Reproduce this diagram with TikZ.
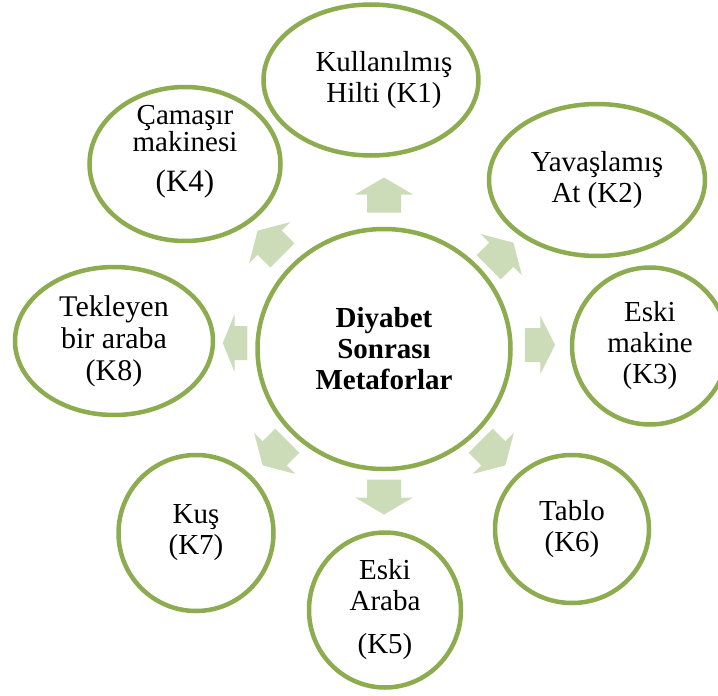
\documentclass[tikz,border=0pt]{standalone}
\usepackage{fontspec}
\setmainfont{Liberation Serif}
\usetikzlibrary{shapes.geometric}
\definecolor{rimgreen}{RGB}{141,172,79}
\definecolor{arrowgreen}{RGB}{205,220,184}
\tikzset{
  sat/.style={ellipse, draw=rimgreen, line width=4.5pt, fill=white, inner sep=0pt,
    align=center, font=\fontsize{29}{31}\selectfont},
  sattext/.style={align=center, font=\fontsize{29}{31}\selectfont},
  pics/blockarrow/.style={code={
    \fill[arrowgreen] (-17.5,-17) -- (0.5,-17) -- (0.5,-29) -- (17.5,0)
      -- (0.5,29) -- (0.5,17) -- (-17.5,17) -- cycle;
  }}
}
\begin{document}
\begin{tikzpicture}[x=1pt,y=-1pt]
\clip (0,0) rectangle (718,696);
\pic[rotate=90] at (384,195) {blockarrow};
\pic[rotate=45] at (501,255) {blockarrow};
\pic[xscale=0.86] at (540,345) {blockarrow};
\pic[rotate=-45] at (493,453) {blockarrow};
\pic[rotate=-90] at (384,497) {blockarrow};
\pic[rotate=-135] at (275,453) {blockarrow};
\pic[rotate=180, xscale=0.7] at (235,343) {blockarrow};
\pic[rotate=135] at (270,243) {blockarrow};

\node[sat, minimum width=253, minimum height=240, font=\fontsize{29}{31}\selectfont\bfseries]
  (center) at (384,349) {Diyabet\\Sonrası\\Metaforlar};

\node[sat, minimum width=215, minimum height=151,
  label={[sattext, xshift=13pt]center:Kullanılmış\\Hilti (K1)}] (k1) at (371,80) {};
\node[sat, minimum width=216, minimum height=152] (k2) at (597,180) {Yavaşlamış\\At (K2)};
\node[sat, minimum width=156, minimum height=157] (k3) at (650,346) {Eski\\makine\\(K3)};
\node[sat, minimum width=154, minimum height=148] (k6) at (572,529) {Tablo\\(K6)};
\node[sat, minimum width=152, minimum height=155] (k5) at (385,610)
  {\fontsize{29}{26}\selectfont Eski\\Araba\\[12pt](K5)};
\node[sat, minimum width=155, minimum height=156] (k7) at (196,533) {Kuş\\(K7)};
\node[sat, minimum width=198, minimum height=148, font=\fontsize{30}{32}\selectfont]
  (k8) at (114,341) {Tekleyen\\bir araba\\(K8)};
\node[sat, minimum width=191, minimum height=154,
  label={[sattext, yshift=12pt, font=\fontsize{29}{27}\selectfont]center:{Çamaşır\\makinesi\\[13pt]\fontsize{31}{32}\selectfont (K4)}}]
  (k4) at (185,164) {};
\end{tikzpicture}
\end{document}
